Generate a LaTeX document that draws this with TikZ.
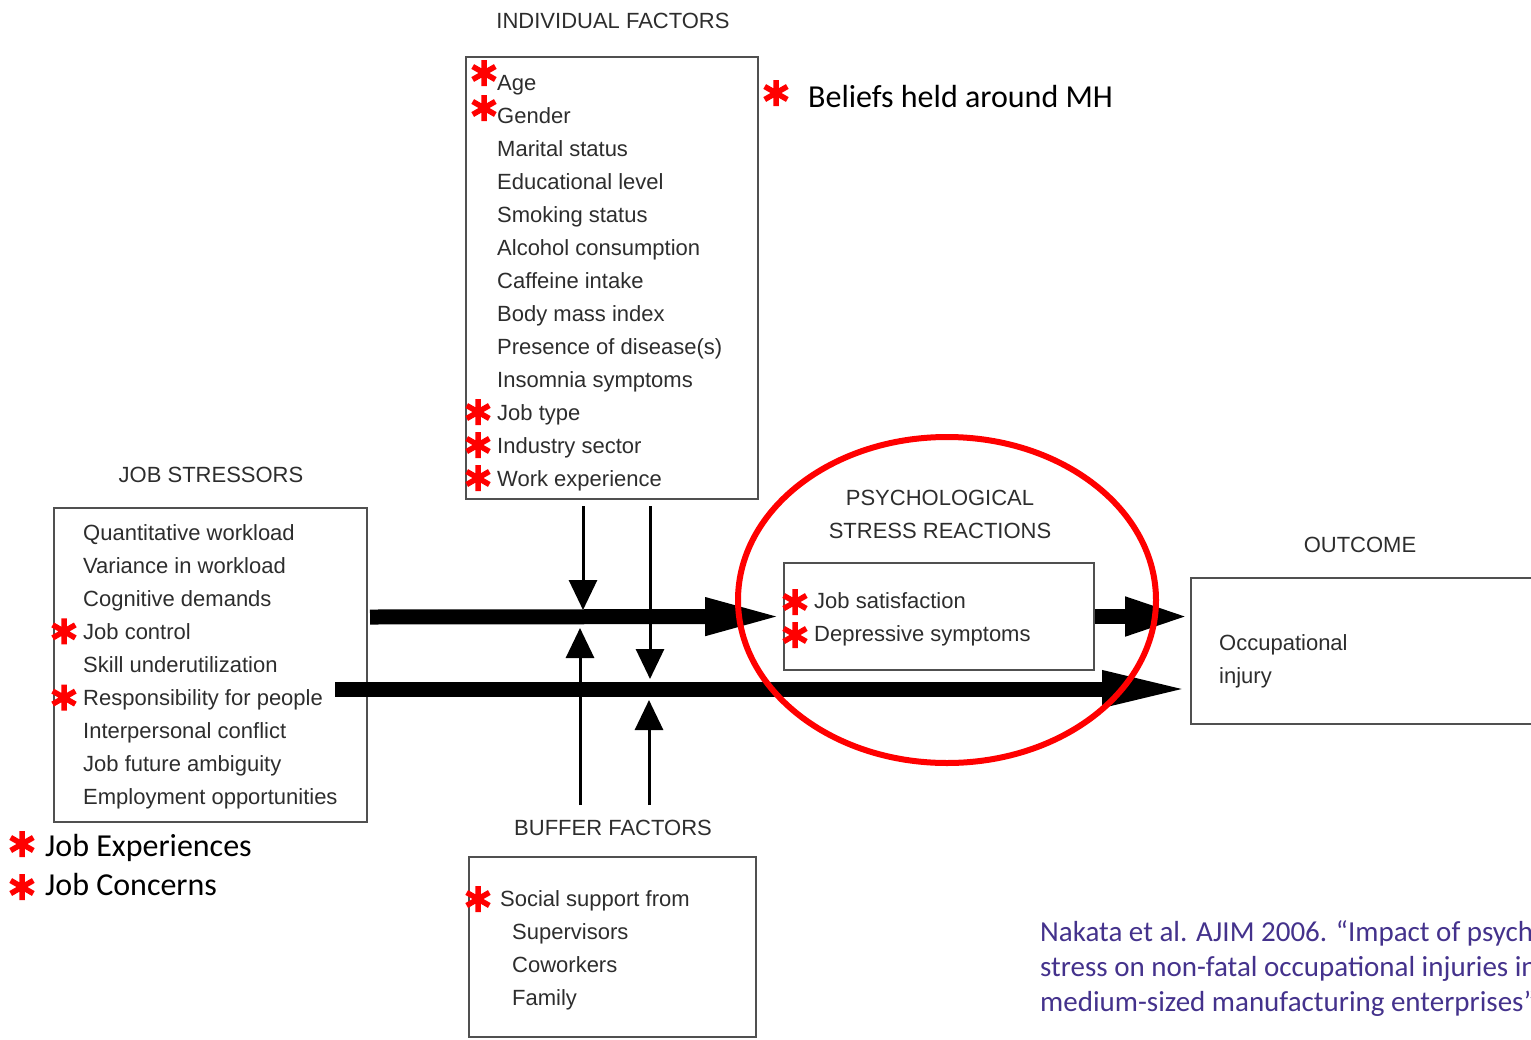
\documentclass[tikz,border=0pt]{standalone}
\usepackage{fontspec}
\setmainfont{Liberation Sans}
\newfontfamily\calibri{Carlito}
\usetikzlibrary{arrows.meta,positioning,calc}
\definecolor{boxgray}{RGB}{80,80,80}
\definecolor{textgray}{RGB}{45,45,45}
\definecolor{citepurple}{RGB}{68,50,140}
\definecolor{markred}{RGB}{255,0,0}
\begin{document}
\begin{tikzpicture}[x=1pt,y=-1pt,
    item/.style={anchor=base west, inner sep=0pt, font=\fontsize{22}{26}\selectfont, text=textgray},
    heading/.style={anchor=base, inner sep=0pt, font=\fontsize{22}{26}\selectfont, text=textgray},
    factorbox/.style={draw=boxgray, line width=1.6pt, inner sep=0pt},
    note/.style={anchor=base west, inner sep=0pt, font=\calibri\fontsize{32}{38}\selectfont},
    bigarrow/.style={line width=15pt, -{Triangle[length=78pt,width=34pt]}},
    thinarrow/.style={line width=3pt, -{Triangle[length=30pt,width=28pt]}},
    redast/.pic={\draw[markred, line width=5.5pt] (0,-13) -- (0,13) (-11.3,-6.5) -- (11.3,6.5) (-11.3,6.5) -- (11.3,-6.5);}
  ]
  \useasboundingbox (0,0) rectangle (1531,1039);
  \clip (0,0) rectangle (1531,1039);

  % individual factors
  \node[heading] (indtitle) at (613,28) {INDIVIDUAL FACTORS};
  \node[factorbox, minimum width=292pt, minimum height=442pt] (indiv) at (612,278) {};
  \foreach \txt [count=\i] in {Age, Gender, Marital status, Educational level, Smoking status,
      Alcohol consumption, Caffeine intake, Body mass index, Presence of disease(s),
      Insomnia symptoms, Job type, Industry sector, Work experience}
    \node[item] (ind-\i) at (497,57+33*\i) {\txt};
  \pic at ($(ind-1.base west)+(-13,-17)$) {redast};
  \pic at ($(ind-2.base west)+(-13,-15)$) {redast};
  \foreach \i in {11,12,13}
    \pic at ($(ind-\i.base west)+(-19,-8)$) {redast};

  % beliefs note
  \node[note] (beliefs) at (808,107) {Beliefs held around MH};
  \pic at ($(beliefs.base west)+(-32,-14)$) {redast};

  % job stressors
  \node[heading] (strtitle) at (211,482) {JOB STRESSORS};
  \node[factorbox, minimum width=313pt, minimum height=314pt] (stress) at (210.5,665) {};
  \foreach \txt [count=\i] in {Quantitative workload, Variance in workload, Cognitive demands,
      Job control, Skill underutilization, Responsibility for people, Interpersonal conflict,
      Job future ambiguity, Employment opportunities}
    \node[item] (str-\i) at (83,507+33.1*\i) {\txt};
  \pic at ($(str-4.base west)+(-19,-8)$) {redast};
  \pic at ($(str-6.base west)+(-19,-8)$) {redast};

  % job notes
  \node[note] (jobexp) at (45,856) {Job Experiences};
  \node[note] (jobcon) at (45,895) {Job Concerns};
  \pic at ($(jobexp.base west)+(-23,-12)$) {redast};
  \pic at ($(jobcon.base west)+(-23,-8)$) {redast};

  % psychological stress reactions
  \node[heading] (psytitle) at (940,505) {PSYCHOLOGICAL};
  \node[heading] (psytitle2) at (940,538) {STRESS REACTIONS};
  \node[factorbox, minimum width=310pt, minimum height=107pt] (psych) at (939,616.5) {};
  \node[item] (psy-1) at (814,608) {Job satisfaction};
  \node[item] (psy-2) at (814,641) {Depressive symptoms};
  \pic at ($(psy-1.base west)+(-19,-6)$) {redast};
  \pic at ($(psy-2.base west)+(-19,-6)$) {redast};

  % outcome
  \node[heading] (outtitle) at (1360,552) {OUTCOME};
  \node[factorbox, minimum width=400pt, minimum height=146pt] (outcome) at (1391,651) {};
  \node[item] (out-1) at (1219,650) {Occupational};
  \node[item] (out-2) at (1219,683) {injury};

  % buffer factors
  \node[heading] (buftitle) at (613,835) {BUFFER FACTORS};
  \node[factorbox, minimum width=287pt, minimum height=180pt] (buffer) at (612.5,947) {};
  \node[item] (buf-1) at (500,906) {Social support from};
  \node[item] (buf-2) at (512,939) {Supervisors};
  \node[item] (buf-3) at (512,972) {Coworkers};
  \node[item] (buf-4) at (512,1005) {Family};
  \pic at ($(buf-1.base west)+(-22,-7)$) {redast};

  % thick arrows
  \coordinate (upstart) at (370,617);
  \coordinate (lowstart) at (335,689);
  \draw[bigarrow] (upstart) -- (psych.west);
  \draw[bigarrow, -{Triangle[length=88pt,width=33pt]}] (lowstart) -- (outcome.west |- lowstart);
  \draw[bigarrow, -{Triangle[length=65pt,width=35pt]}] (psych.east) -- (outcome.west |- psych.east);

  % thin arrows
  \coordinate (ind-a) at (583,506);
  \coordinate (ind-b) at (650,506);
  \coordinate (buf-a) at (580,805);
  \coordinate (buf-b) at (649,805);
  \draw[thinarrow] (ind-a) -- (583,610);
  \draw[thinarrow] (ind-b) -- (650,679);
  \draw[thinarrow] (buf-a) -- (580,628);
  \draw[thinarrow] (buf-b) -- (649,700);

  % red ring
  \draw[markred, line width=6pt] (947,600) ellipse [x radius=209pt, y radius=163pt];

  % citation
  \node[anchor=base west, inner sep=0pt, align=left, text=citepurple,
    font=\calibri\fontsize{29}{35}\selectfont] (cite) at (1040,1011)
    {Nakata et al. AJIM 2006. “Impact of psychosocial job\\
     stress on non-fatal occupational injuries in small and\\
     medium-sized manufacturing enterprises”};
\end{tikzpicture}
\end{document}
